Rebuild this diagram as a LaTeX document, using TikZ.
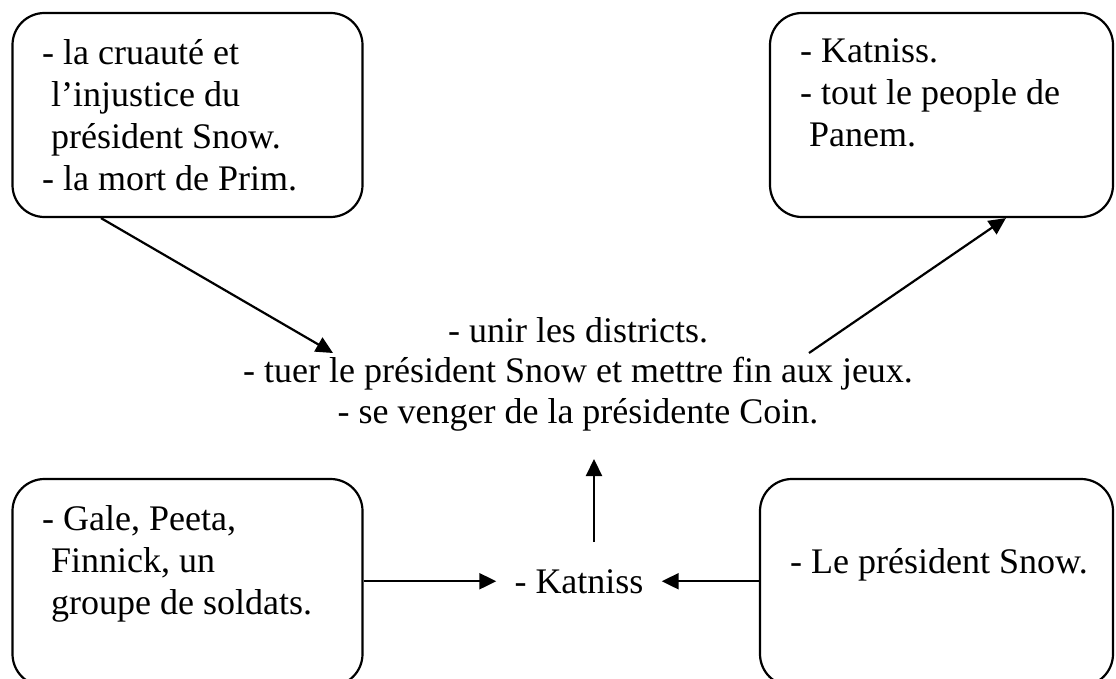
\documentclass[tikz,border=0pt]{standalone}
\usepackage{fontspec}
\setmainfont{Liberation Serif}
\usetikzlibrary{arrows.meta,positioning}

\begin{document}
\begin{tikzpicture}[x=1pt,y=-1pt,
        frame/.style={draw, line width=2.2pt, rounded corners=32pt, inner sep=0pt},
        boxtext/.style={anchor=base west, align=left, inner sep=0pt, font=\fontsize{36}{42}\selectfont},
        link/.style={line width=2.2pt, -{Triangle[length=17pt,width=16pt]}}]
    \useasboundingbox (0,0) rectangle (1116,679);

    % Draw the four boxes
    \node[frame, minimum width=350pt, minimum height=204pt] (causes) at (187.5,115) {};
    \node[frame, minimum width=343pt, minimum height=204pt] (people) at (941.5,115) {};
    \node[frame, minimum width=350pt, minimum height=207pt] (allies) at (187.5,582.5) {};
    \node[frame, minimum width=353pt, minimum height=207pt] (enemy) at (936.5,582.5) {};

    % Texts of the boxes (placed by the baseline of their last line)
    \node[boxtext] (causestext) at (42,191) {- la cruauté et\\\ l’injustice du\\\ président Snow.\\- la mort de Prim.};
    \node[boxtext] (peopletext) at (800,147) {- Katniss.\\- tout le people de\\\ Panem.};
    \node[boxtext] (alliestext) at (42,614) {- Gale, Peeta,\\\ Finnick, un\\\ groupe de soldats.};
    \node[boxtext] (enemytext) at (790,573) {- Le président Snow.};

    % Goal and hero
    \node[anchor=base, align=center, inner sep=0pt, font=\fontsize{36}{40.5}\selectfont] (goal) at (578,423)
        {- unir les districts.\\- tuer le président Snow et mettre fin aux jeux.\\- se venger de la présidente Coin.};
    \node[inner xsep=18pt, inner ysep=0pt, anchor=base, font=\fontsize{36}{42}\selectfont] (hero) at (579,593) {- Katniss};
    \coordinate (goal in) at (333,353);
    \coordinate (goal out) at (809,353);
    \coordinate (hero up) at (594,542);
    \coordinate (goal below) at (594,459);

    % Arrows
    \draw[link] (causes.230) -- (goal in);
    \draw[link] (goal out) -- (people.-58);
    \draw[link] (hero up) -- (goal below);
    \draw[link] (allies.east |- hero.west) -- (hero.west);
    \draw[link] (enemy.west |- hero.east) -- (hero.east);
\end{tikzpicture}
\end{document}
